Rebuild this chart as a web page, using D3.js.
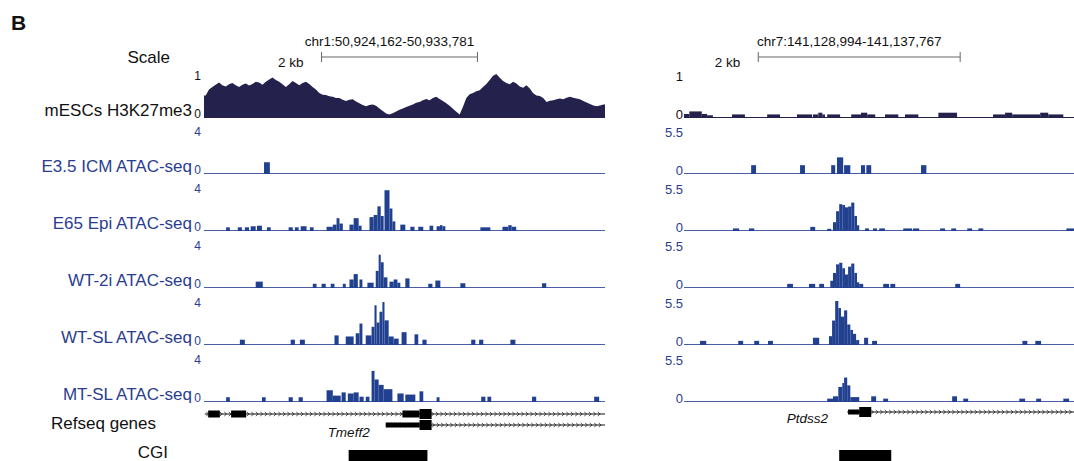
<!DOCTYPE html>
<html lang="en">
<head>
<meta charset="UTF-8" />
<title>Genome browser tracks</title>
<script src="https://d3js.org/d3.v7.min.js"></script>
<style>
  body { margin: 0; background: #fff; }
  svg { display: block; font-family: "Liberation Sans", Arial, sans-serif; }
</style>
</head>
<body>
<svg id="chart" width="1074" height="461"></svg>
<script>
  // ---- data (positions in kb from the start of each window) ----
  const regionNames = ["chr1:50,924,162-50,933,781", "chr7:141,128,994-141,137,767"];
  const regionSpanKb = [9.62, 8.77];
  const scaleBarKb = [[2.82, 6.56], [1.67, 6.21]];
  const scaleBarLabel = "2 kb";

  const trackNames = ["mESCs H3K27me3", "E3.5 ICM ATAC-seq", "E65 Epi ATAC-seq",
    "WT-2i ATAC-seq", "WT-SL ATAC-seq", "MT-SL ATAC-seq"];
  const leftMax = [1, 4, 4, 4, 4, 4];
  const rightMax = [1, 5.5, 5.5, 5.5, 5.5, 5.5];

  // H3K27me3, left window: 120 equal bins
  const h3k27Left = [0.50, 0.64, 0.70, 0.75, 0.80, 0.74, 0.71, 0.76, 0.79, 0.74,
    0.70, 0.75, 0.78, 0.73, 0.77, 0.82, 0.80, 0.75, 0.82, 0.87,
    0.92, 0.86, 0.82, 0.76, 0.70, 0.76, 0.84, 0.79, 0.74, 0.79,
    0.82, 0.77, 0.70, 0.64, 0.56, 0.52, 0.51, 0.48, 0.47, 0.44,
    0.44, 0.40, 0.37, 0.40, 0.41, 0.36, 0.32, 0.28, 0.25, 0.28,
    0.29, 0.26, 0.20, 0.14, 0.08, 0.06, 0.09, 0.13, 0.17, 0.20,
    0.23, 0.26, 0.29, 0.33, 0.35, 0.39, 0.42, 0.39, 0.44, 0.47,
    0.42, 0.37, 0.32, 0.26, 0.19, 0.12, 0.06, 0.24, 0.44, 0.53,
    0.56, 0.60, 0.62, 0.70, 0.77, 0.86, 0.96, 1.00, 0.91, 0.84,
    0.79, 0.76, 0.82, 0.78, 0.71, 0.68, 0.74, 0.66, 0.55, 0.50,
    0.49, 0.44, 0.35, 0.38, 0.39, 0.41, 0.43, 0.41, 0.45, 0.47,
    0.45, 0.43, 0.41, 0.37, 0.34, 0.30, 0.27, 0.25, 0.27, 0.29];

  // H3K27me3, right window: [start, end, value]
  const h3k27Right = [[0.00, 0.12, 0.07], [0.12, 0.40, 0.13], [0.40, 0.52, 0.07], [0.52, 0.65, 0.04],
    [1.08, 1.37, 0.06], [1.87, 2.16, 0.06], [2.54, 2.88, 0.06], [2.90, 3.02, 0.06], [3.02, 3.11, 0.1],
    [3.11, 3.17, 0.06], [3.22, 3.51, 0.06], [3.76, 3.98, 0.06], [3.98, 4.12, 0.1], [4.12, 4.30, 0.06],
    [4.52, 4.82, 0.06], [4.97, 5.27, 0.06], [5.72, 6.14, 0.1], [6.95, 7.22, 0.06], [7.22, 7.38, 0.1],
    [7.38, 8.01, 0.06], [8.01, 8.19, 0.1], [8.19, 8.53, 0.06]];

  // ATAC-seq, left window: [start, end, value]
  const e35Left = [[1.44, 1.58, 1.0]];
  const e65Left = [[0.53, 0.62, 0.25], [0.81, 0.91, 0.25], [0.98, 1.08, 0.25], [1.12, 1.24, 0.35],
    [1.27, 1.39, 0.4], [1.51, 1.60, 0.25], [2.03, 2.13, 0.25], [2.18, 2.27, 0.25], [2.32, 2.46, 0.35],
    [2.54, 2.63, 0.25], [2.94, 3.09, 0.3], [3.09, 3.18, 0.5], [3.18, 3.25, 1.1], [3.25, 3.33, 0.6],
    [3.49, 3.59, 0.5], [3.59, 3.71, 1.1], [3.71, 3.78, 0.4], [3.97, 4.07, 1.2], [4.07, 4.16, 1.4],
    [4.16, 4.24, 2.2], [4.24, 4.31, 1.3], [4.33, 4.45, 3.7], [4.45, 4.52, 2.0], [4.52, 4.59, 0.8],
    [4.71, 4.83, 0.5], [4.95, 5.05, 0.3], [5.14, 5.26, 0.3], [5.41, 5.50, 0.4], [5.58, 5.66, 0.35],
    [5.66, 5.72, 0.45], [5.72, 5.79, 0.35], [6.63, 6.87, 0.25], [7.16, 7.30, 0.3], [7.30, 7.38, 0.45],
    [7.38, 7.49, 0.3]];
  const wt2iLeft = [[1.24, 1.41, 0.5], [2.61, 2.70, 0.3], [2.82, 2.92, 0.3], [3.04, 3.13, 0.3],
    [3.33, 3.40, 0.3], [3.49, 3.59, 0.7], [3.59, 3.69, 1.2], [3.73, 3.80, 0.7], [3.92, 4.07, 0.4],
    [4.12, 4.19, 1.5], [4.19, 4.24, 3.0], [4.24, 4.31, 2.3], [4.31, 4.40, 0.9], [4.45, 4.55, 0.5],
    [4.55, 4.64, 0.7], [4.64, 4.71, 0.4], [4.83, 4.93, 0.8], [5.38, 5.48, 0.3], [5.55, 5.67, 0.6],
    [6.15, 6.27, 0.35], [8.11, 8.21, 0.35]];
  const wtslLeft = [[0.86, 0.98, 0.4], [2.08, 2.18, 0.4], [2.30, 2.42, 0.4], [3.13, 3.23, 0.8],
    [3.40, 3.59, 0.7], [3.64, 3.73, 1.0], [3.73, 3.80, 1.9], [3.88, 4.02, 0.8], [4.02, 4.09, 1.6],
    [4.09, 4.14, 3.6], [4.14, 4.21, 2.0], [4.21, 4.28, 3.0], [4.28, 4.33, 3.9], [4.33, 4.43, 2.2],
    [4.43, 4.55, 0.7], [4.55, 4.67, 0.5], [4.74, 4.86, 1.1], [5.05, 5.14, 0.9], [5.24, 5.34, 0.4],
    [6.41, 6.51, 0.4], [6.60, 6.70, 0.4], [7.35, 7.47, 0.4]];
  const mtslLeft = [[0.53, 0.62, 0.35], [1.39, 1.48, 0.35], [2.03, 2.13, 0.35], [2.27, 2.37, 0.35],
    [2.94, 3.09, 1.0], [3.09, 3.28, 0.5], [3.30, 3.40, 0.8], [3.45, 3.59, 0.7], [3.59, 3.71, 0.8],
    [3.73, 3.83, 0.4], [3.88, 3.97, 0.4], [4.02, 4.09, 2.8], [4.09, 4.19, 2.0], [4.19, 4.31, 1.5],
    [4.31, 4.52, 1.1], [4.64, 4.79, 0.7], [4.83, 5.07, 0.6], [5.17, 5.26, 0.9], [5.58, 5.65, 0.35],
    [6.65, 6.75, 0.4], [6.80, 6.89, 0.4], [7.87, 7.97, 0.4], [9.36, 9.48, 0.4]];

  // ATAC-seq, right window
  const e35Right = [[1.51, 1.62, 1.0], [2.61, 2.72, 1.0], [3.31, 3.40, 1.0], [3.44, 3.58, 2.0],
    [3.60, 3.74, 1.0], [3.98, 4.07, 1.0], [4.10, 4.21, 1.0], [5.33, 5.45, 1.0]];
  const e65Right = [[1.10, 1.24, 0.2], [1.46, 1.58, 0.2], [2.84, 2.95, 0.4], [3.22, 3.31, 0.15],
    [3.35, 3.42, 1.0], [3.42, 3.49, 2.4], [3.49, 3.56, 3.3], [3.56, 3.62, 3.2], [3.62, 3.69, 2.9],
    [3.69, 3.76, 3.0], [3.76, 3.83, 3.5], [3.83, 3.89, 1.8], [3.89, 3.94, 0.6], [4.07, 4.16, 0.2],
    [4.25, 4.34, 0.2], [4.39, 4.52, 0.2], [4.93, 5.13, 0.2], [5.15, 5.29, 0.2], [5.76, 5.87, 0.2],
    [6.01, 6.12, 0.2], [6.37, 6.48, 0.2], [6.62, 6.73, 0.2], [8.60, 8.77, 0.2]];
  const wt2iRight = [[2.32, 2.45, 0.4], [2.81, 2.95, 0.4], [3.04, 3.15, 0.4], [3.29, 3.35, 0.8],
    [3.35, 3.42, 1.8], [3.42, 3.49, 2.9], [3.49, 3.56, 3.1], [3.56, 3.62, 2.4], [3.62, 3.69, 1.6],
    [3.69, 3.76, 2.6], [3.76, 3.83, 3.0], [3.83, 3.89, 1.8], [3.89, 3.94, 0.6], [3.94, 4.03, 0.4],
    [4.48, 4.61, 0.4], [4.64, 4.75, 0.4], [6.10, 6.21, 0.4]];
  const wtslRight = [[0.36, 0.50, 0.4], [1.22, 1.33, 0.4], [1.58, 1.69, 0.4], [1.89, 2.00, 0.4],
    [2.90, 3.04, 0.8], [3.26, 3.33, 1.0], [3.33, 3.40, 3.0], [3.40, 3.47, 5.5], [3.47, 3.53, 4.6],
    [3.53, 3.60, 3.5], [3.60, 3.67, 4.3], [3.67, 3.74, 2.5], [3.74, 3.80, 1.8], [3.80, 3.87, 1.3],
    [3.87, 3.94, 0.5], [4.05, 4.14, 0.8], [4.23, 4.34, 0.4], [7.61, 7.72, 0.4], [7.90, 8.03, 0.4]];
  const mtslRight = [[3.22, 3.35, 0.3], [3.35, 3.47, 0.6], [3.47, 3.56, 1.8], [3.56, 3.60, 2.3],
    [3.60, 3.67, 3.0], [3.67, 3.74, 2.0], [3.74, 3.80, 0.5], [3.80, 3.94, 0.5], [4.21, 4.32, 0.6],
    [4.48, 4.59, 0.3], [6.03, 6.14, 0.6], [6.28, 6.39, 0.3], [7.54, 7.67, 0.3], [7.92, 8.03, 0.3],
    [8.53, 8.66, 0.3]];

  // RefSeq genes: line extent, exons [start, end, kind]
  const genesLeft = [
    { row: 0, start: 0.02, end: 9.62, exons: [[0.10, 0.38, "utr"], [0.65, 1.01, "utr"], [4.76, 5.17, "utr"], [5.17, 5.46, "cds"]] },
    { row: 1, start: 4.36, end: 9.62, exons: [[4.36, 5.17, "thin"], [5.17, 5.46, "cds"]] }
  ];
  const genesRight = [
    { row: 0, start: 3.67, end: 8.77, exons: [[3.69, 3.94, "thin"], [3.94, 4.21, "cds"]] }
  ];
  const geneLabels = [["Tmeff2", 3.47, "middle"], ["Ptdss2", 3.24, "end"]];
  const cgiLeft = [[3.47, 5.36]];
  const cgiRight = [[3.49, 4.66]];

  // ---- layout ----
  const svg = d3.select("#chart");
  const navy = "#24224d", blue = "#21408f", labelBlue = "#2a3d8f";
  const baselines = [117, 173, 230, 287, 344, 401];
  const trackH = 43;
  const panels = [
    { x0: 204, x1: 605, axisX: 201, max: leftMax, h3: h3k27Left, atac: [e35Left, e65Left, wt2iLeft, wtslLeft, mtslLeft],
      genes: genesLeft, cgi: cgiLeft, geneRows: [414, 425], labelY: 432, numSize: 12 },
    { x0: 684, x1: 1074, axisX: 683, max: rightMax, h3: h3k27Right, atac: [e35Right, e65Right, wt2iRight, wtslRight, mtslRight],
      genes: genesRight, cgi: cgiRight, geneRows: [412], labelY: 418, numSize: 13 }
  ];

  svg.append("rect").attr("width", 1074).attr("height", 461).attr("fill", "#fff");

  svg.append("text").attr("x", 11).attr("y", 30).attr("font-size", 21).attr("font-weight", "bold")
    .attr("fill", "#111").text("B");

  // left-side labels
  const leftLabels = svg.append("g").attr("font-size", 17).attr("text-anchor", "end");
  leftLabels.append("text").attr("x", 170).attr("y", 57).attr("dy", "0.35em").attr("fill", "#111").text("Scale");
  trackNames.forEach((name, i) => {
    leftLabels.append("text").attr("x", 192).attr("y", baselines[i] - 7).attr("dy", "0.35em")
      .attr("fill", i === 0 ? "#111" : labelBlue).text(name);
  });
  leftLabels.append("text").attr("x", 156).attr("y", 423).attr("dy", "0.35em").attr("fill", "#111").text("Refseq genes");
  leftLabels.append("text").attr("x", 168).attr("y", 452).attr("dy", "0.35em").attr("fill", "#111").text("CGI");

  panels.forEach((p, pi) => {
    const x = d3.scaleLinear().domain([0, regionSpanKb[pi]]).range([p.x0, p.x1]);
    const g = svg.append("g");

    // region title and scale bar
    const [sb0, sb1] = scaleBarKb[pi];
    g.append("text").attr("x", (x(sb0) + x(sb1)) / 2 - 10).attr("y", 41).attr("dy", "0.35em")
      .attr("text-anchor", "middle").attr("font-size", 13.5).attr("fill", "#111").text(regionNames[pi]);
    g.append("text").attr("x", x(sb0) - 18).attr("y", 62).attr("dy", "0.35em")
      .attr("text-anchor", "end").attr("font-size", 13.5).attr("fill", "#111").text(scaleBarLabel);
    const bar = g.append("g").attr("stroke", "#666").attr("stroke-width", 1);
    bar.append("line").attr("x1", x(sb0)).attr("x2", x(sb1)).attr("y1", 57).attr("y2", 57);
    bar.append("line").attr("x1", x(sb0)).attr("x2", x(sb0)).attr("y1", 52).attr("y2", 62);
    bar.append("line").attr("x1", x(sb1)).attr("x2", x(sb1)).attr("y1", 52).attr("y2", 62);

    // tracks
    baselines.forEach((b, ti) => {
      const y = d3.scaleLinear().domain([0, p.max[ti]]).range([b, b - trackH]);
      const col = ti === 0 ? navy : blue;
      const numCol = ti === 0 ? "#111" : labelBlue;
      g.append("text").attr("x", p.axisX).attr("y", b - 41).attr("dy", "0.35em").attr("text-anchor", "end")
        .attr("font-size", p.numSize).attr("fill", numCol).text(p.max[ti]);
      g.append("text").attr("x", p.axisX).attr("y", b - 3).attr("dy", "0.35em").attr("text-anchor", "end")
        .attr("font-size", p.numSize).attr("fill", numCol).text(0);
      g.append("line").attr("x1", p.x0).attr("x2", p.x1).attr("y1", b + 0.5).attr("y2", b + 0.5)
        .attr("stroke", ti === 0 ? navy : "#4a5ea8").attr("stroke-width", 1);

      if (ti === 0 && pi === 0) {
        const step = regionSpanKb[pi] / p.h3.length;
        const pts = p.h3.map((v, i) => [(i + 0.5) * step, v]);
        pts.unshift([0, p.h3[0]]);
        pts.push([regionSpanKb[pi], p.h3[p.h3.length - 1]]);
        g.append("path").datum(pts)
          .attr("fill", navy)
          .attr("d", d3.area().x(d => x(d[0])).y0(b + 1).y1(d => y(d[1])));
      } else {
        const segs = ti === 0 ? p.h3 : p.atac[ti - 1];
        g.append("g").selectAll("rect").data(segs).join("rect")
          .attr("x", d => x(d[0]))
          .attr("width", d => Math.max(1, x(d[1]) - x(d[0])))
          .attr("y", d => y(d[2]))
          .attr("height", d => b + 1 - y(d[2]))
          .attr("fill", col);
      }
    });

    // genes
    const exonH = { utr: 7, thin: 5, cds: 10 };
    p.genes.forEach(gene => {
      const gy = p.geneRows[gene.row];
      g.append("line").attr("x1", x(gene.start)).attr("x2", x(gene.end)).attr("y1", gy).attr("y2", gy)
        .attr("stroke", "#111").attr("stroke-width", 1);
      const chev = [];
      for (let px = x(gene.start) + 3; px < x(gene.end) - 2; px += 4.5) chev.push(px);
      g.append("path")
        .attr("d", chev.map(px => `M${px - 1.5},${gy - 2}L${px + 0.8},${gy}L${px - 1.5},${gy + 2}`).join(""))
        .attr("fill", "none").attr("stroke", "#222").attr("stroke-width", 0.8);
      g.append("g").selectAll("rect").data(gene.exons).join("rect")
        .attr("x", d => x(d[0]))
        .attr("width", d => x(d[1]) - x(d[0]))
        .attr("y", d => gy - exonH[d[2]] / 2)
        .attr("height", d => exonH[d[2]])
        .attr("fill", "#000");
    });
    const [lab, at, anchor] = geneLabels[pi];
    g.append("text").attr("x", x(at)).attr("y", p.labelY).attr("dy", "0.35em").attr("text-anchor", anchor)
      .attr("font-size", 13.5).attr("font-style", "italic").attr("fill", "#111").text(lab);

    // CpG islands
    g.append("g").selectAll("rect").data(p.cgi).join("rect")
      .attr("x", d => x(d[0]))
      .attr("width", d => x(d[1]) - x(d[0]))
      .attr("y", 450).attr("height", 11).attr("fill", "#000");
  });
</script>
</body>
</html>
